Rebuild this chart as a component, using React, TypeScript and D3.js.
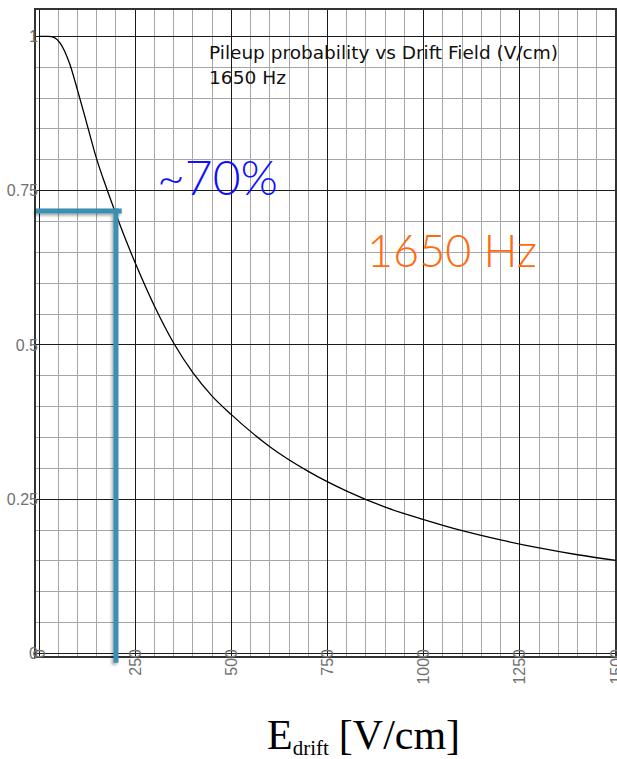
import React from "react";
import * as d3 from "d3";

// Pileup probability read along the drift field (V/cm)
const fieldValues = [0, 25, 40, 55, 80, 100, 125, 150, 175, 200, 225, 250, 300, 350, 400, 450, 500, 600, 700, 800, 900, 1000, 1100, 1200, 1300, 1400, 1500];
const pileupValues = [1.0, 1.0, 0.998, 0.989, 0.955, 0.913, 0.857, 0.801, 0.755, 0.712, 0.671, 0.633, 0.563, 0.503, 0.455, 0.417, 0.387, 0.335, 0.295, 0.263, 0.237, 0.217, 0.199, 0.184, 0.171, 0.16, 0.151];

const xTicks = [0, 250, 500, 750, 1000, 1250, 1500];
const xTickLabels = ["0", "250", "500", "750", "1000", "1250", "1500"];
const yTicks = [0, 0.25, 0.5, 0.75, 1];
const yTickLabels = ["0", "0.25", "0.5", "0.75", "1"];

// operating point highlighted on the curve
const markField = 200;
const markPileup = 0.717;

const W = 617;
const H = 759;

export default function App() {
  const x = d3.scaleLinear().domain([0, 1500]).range([39, 616]);
  const y = d3.scaleLinear().domain([0, 1]).range([653.5, 36.3]);

  const xMin = -10.4;
  const yMin = -0.006;
  const yMax = 1.044;

  const minorX = d3.range(0, 1500 + 1, 50).filter((v) => v % 250 !== 0);
  const minorY = d3.range(0, 21).map((i) => i * 0.05).filter((_, i) => i % 5 !== 0);

  const line = d3
    .line<number>()
    .x((_, i) => x(fieldValues[i]))
    .y((d) => y(d))
    .curve(d3.curveMonotoneX);

  const tickFont = "'Liberation Sans', Arial, sans-serif";

  return (
    <svg
      width={W}
      height={H}
      style={{ position: "absolute", left: 0, top: 0, background: "#fff" }}
    >
      <defs>
        <filter id="shadow" x="-50%" y="-50%" width="200%" height="200%">
          <feDropShadow dx={-1.5} dy={2} stdDeviation={1.5} floodColor="#000" floodOpacity={0.35} />
        </filter>
        <clipPath id="plotClip">
          <rect x={x(xMin)} y={y(yMax)} width={x(1500) - x(xMin)} height={y(yMin) - y(yMax)} />
        </clipPath>
      </defs>

      <g shapeRendering="crispEdges">
        {minorX.map((v) => (
          <line key={"mx" + v} x1={x(v)} x2={x(v)} y1={y(yMax)} y2={y(yMin)} stroke="#a6a6a6" strokeWidth={1} />
        ))}
        {minorY.map((v) => (
          <line key={"my" + v} x1={x(xMin)} x2={x(1500)} y1={y(v)} y2={y(v)} stroke="#a6a6a6" strokeWidth={1} />
        ))}
        {xTicks.map((v) => (
          <line key={"MX" + v} x1={x(v)} x2={x(v)} y1={y(yMax)} y2={y(yMin)} stroke="#1a1a1a" strokeWidth={1} />
        ))}
        {yTicks.map((v) => (
          <line key={"MY" + v} x1={x(xMin)} x2={x(1500)} y1={y(v)} y2={y(v)} stroke="#1a1a1a" strokeWidth={1} />
        ))}
        <rect
          x={x(xMin)}
          y={y(yMax)}
          width={x(1500) - x(xMin)}
          height={y(yMin) - y(yMax)}
          fill="none"
          stroke="#333"
          strokeWidth={2}
        />
      </g>

      <path
        d={line(pileupValues) || ""}
        fill="none"
        stroke="#000"
        strokeWidth={1.3}
        clipPath="url(#plotClip)"
      />

      {/* y tick labels */}
      {yTicks.map((v, i) => (
        <text
          key={"yl" + v}
          x={38}
          y={y(v)}
          dy="0.35em"
          textAnchor="end"
          fontFamily={tickFont}
          fontSize={16}
          fill="#707070"
        >
          {yTickLabels[i]}
        </text>
      ))}

      {/* x tick labels, rotated */}
      {xTicks.map((v, i) => (
        <text
          key={"xl" + v}
          transform={`translate(${x(v)},${649}) rotate(-90)`}
          dy="0.35em"
          textAnchor="end"
          fontFamily={tickFont}
          fontSize={16}
          fill="#707070"
        >
          {xTickLabels[i]}
        </text>
      ))}

      {/* title */}
      <text x={209} y={59} fontFamily="'DejaVu Sans', sans-serif" fontSize={17} textLength={349} lengthAdjust="spacingAndGlyphs" fill="#111">
        Pileup probability vs Drift Field (V/cm)
      </text>
      <text x={209} y={84} fontFamily="'DejaVu Sans', sans-serif" fontSize={17} textLength={77} lengthAdjust="spacingAndGlyphs" fill="#111">
        1650 Hz
      </text>

      {/* operating point marker */}
      <g filter="url(#shadow)" stroke="#3a8fb0" strokeWidth={5}>
        <line x1={x(xMin) + 1} x2={x(215)} y1={y(markPileup)} y2={y(markPileup)} />
        <line x1={x(markField)} x2={x(markField)} y1={y(markPileup) - 2.5} y2={y(-0.015)} />
      </g>

      <text x={157} y={195} fontFamily="Lato, 'Open Sans', sans-serif" fontWeight={300} fontSize={48} fill="#1010ff">
        ~70%
      </text>
      <text x={367} y={267} fontFamily="Lato, 'Open Sans', sans-serif" fontWeight={300} fontSize={45} fill="#ff6a10">
        1650 Hz
      </text>

      {/* axis title */}
      <text x={267} y={749} fontFamily="'Liberation Serif', 'Times New Roman', serif" fontSize={42} fill="#000">
        E
        <tspan fontSize={21} dy={6}>drift</tspan>
        <tspan dy={-6} dx={10}>[V/cm]</tspan>
      </text>
    </svg>
  );
}
